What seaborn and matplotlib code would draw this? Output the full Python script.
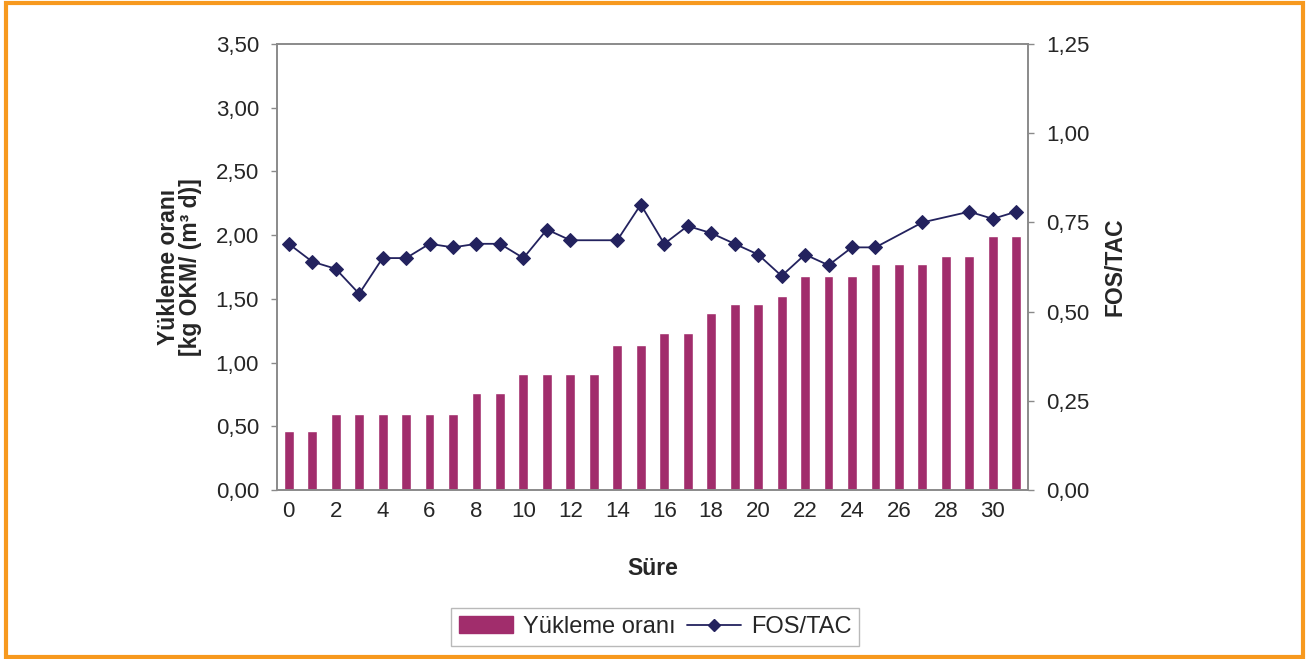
import numpy as np
import pandas as pd
import seaborn as sns
import matplotlib.pyplot as plt
from matplotlib.patches import Patch, Rectangle
from matplotlib.lines import Line2D
from matplotlib.ticker import FuncFormatter

# Data
days = list(range(32))
loading = [0.46, 0.46, 0.60, 0.60, 0.60, 0.60, 0.60, 0.60,
           0.76, 0.76, 0.91, 0.91, 0.91, 0.91, 1.14, 1.14,
           1.23, 1.23, 1.39, 1.46, 1.46, 1.52, 1.68, 1.68,
           1.68, 1.77, 1.77, 1.77, 1.84, 1.84, 1.99, 1.99]
fos_tac = [0.69, 0.64, 0.62, 0.55, 0.65, 0.65, 0.69, 0.68,
           0.69, 0.69, 0.65, 0.73, 0.70, np.nan, 0.70, 0.80,
           0.69, 0.74, 0.72, 0.69, 0.66, 0.60, 0.66, 0.63,
           0.68, 0.68, np.nan, 0.75, np.nan, 0.78, 0.76, 0.78]
xtick_labels = list(range(0, 31, 2))

bar_color = "#A12D6C"
line_color = "#23225E"
frame_color = "#8A8A8A"

sns.set_style("white")
plt.rcParams['font.family'] = ['Liberation Sans', 'DejaVu Sans']

df = pd.DataFrame({"day": days, "load": loading, "fos": fos_tac})
df_line = df.dropna(subset=["fos"])

fig = plt.figure(figsize=(13.08, 6.59), dpi=100)
ax = fig.add_axes([277 / 1308, 1 - 490 / 659, 751 / 1308, 446 / 659])

sns.barplot(data=df, x="day", y="load", color=bar_color, saturation=1,
            width=0.42, ax=ax)
ax.set_xlim(-0.5, 31.5)
ax.set_ylim(0, 3.5)
ax.set_yticks(np.arange(0, 3.51, 0.5))

ax2 = ax.twinx()
sns.lineplot(data=df_line, x="day", y="fos", ax=ax2, color=line_color,
             marker="D", markersize=7, markeredgecolor=line_color,
             linewidth=1.3)
ax2.set_ylim(0, 1.25)
ax2.set_yticks(np.arange(0, 1.26, 0.25))
ax2.set_xlim(-0.5, 31.5)

comma = FuncFormatter(lambda v, p: f"{v:.2f}".replace(".", ","))
ax.yaxis.set_major_formatter(comma)
ax2.yaxis.set_major_formatter(comma)

ax.set_xticks(xtick_labels)
ax.set_xticklabels([str(d) for d in xtick_labels])

ax.tick_params(axis="x", length=0, pad=8, labelsize=16)
ax.tick_params(axis="y", left=True, length=4, width=1, color=frame_color,
               pad=9, labelsize=16)
ax2.tick_params(axis="y", right=True, length=4, width=1, color=frame_color,
                pad=9, labelsize=16)

for a in (ax, ax2):
    for s in a.spines.values():
        s.set_visible(True)
        s.set_color(frame_color)
        s.set_linewidth(1.2)

ax.set_xlabel("Süre", fontsize=16.5, fontweight="bold")
ax.xaxis.set_label_coords(0.5, -0.15)
ax.set_ylabel("Yükleme oranı\n[kg OKM/ (m³ d)]", fontsize=16.5,
              fontweight="bold", linespacing=0.95)
ax.yaxis.set_label_coords(-0.10, 0.5)
ax2.set_ylabel("FOS/TAC", fontsize=16.5, fontweight="bold")
ax2.yaxis.set_label_coords(1.10, 0.5)

handles = [Patch(facecolor=bar_color, edgecolor=bar_color),
           Line2D([0], [0], color=line_color, marker="D", markersize=6,
                  linewidth=1.3)]
leg = fig.legend(handles, ["Yükleme oranı", "FOS/TAC"], loc="center",
                 bbox_to_anchor=(655 / 1308, 1 - 627 / 659), ncol=2,
                 fontsize=17, frameon=True, fancybox=False,
                 handlelength=2.3, handletextpad=0.4, columnspacing=0.5,
                 borderpad=0.35)
leg.get_frame().set_edgecolor("#A8A8A8")
leg.get_frame().set_linewidth(1)

# orange border around the figure
fig.patches.append(Rectangle((6 / 1308, 2 / 659), 1297 / 1308, 654 / 659,
                             transform=fig.transFigure, fill=False,
                             edgecolor="#F7991E", linewidth=3))

fig.savefig("out.png", dpi=100)
